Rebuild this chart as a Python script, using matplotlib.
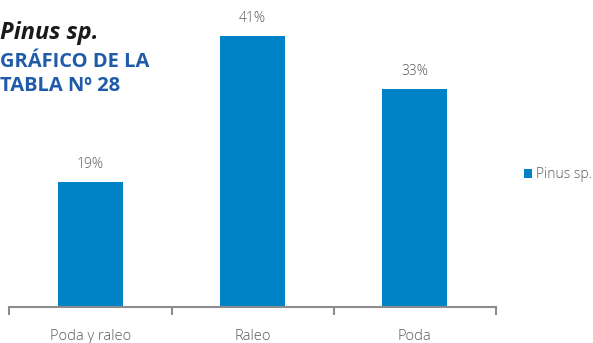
import matplotlib
matplotlib.use('Agg')
import matplotlib.pyplot as plt
import numpy as np

categories = ['Poda y raleo', 'Raleo', 'Poda']
values = [19, 41, 33]
series_name = 'Pinus sp.'

BAR = '#0083C6'
GRAY = '#8C8C8C'
TXT = '#595959'

plt.rcParams['font.family'] = ['Open Sans', 'DejaVu Sans']

fig = plt.figure(figsize=(5.93, 3.43), dpi=100)
ax = fig.add_axes([0.016, 0.105, 0.820, 0.866])

x = np.arange(len(categories))
bars = ax.bar(x, values, width=0.4, color=BAR, label=series_name)
for b, v in zip(bars, values):
    ax.text(b.get_x() + b.get_width() / 2, v + 1.5, f'{v}%',
            ha='center', va='bottom', fontsize=10, color=TXT,
            fontweight='light')

ax.set_xlim(-0.5, len(categories) - 0.5)
ax.set_ylim(0, 45)
ax.set_yticks([])
ax.set_xticks(x)
ax.set_xticklabels(categories, fontsize=10.5, color=TXT, fontweight='light')
ax.tick_params(axis='x', which='major', length=0, pad=16)
ax.set_xticks(np.arange(-0.5, len(categories)), minor=True)
ax.tick_params(axis='x', which='minor', length=6, width=1.5, color=GRAY)
for s in ['top', 'right', 'left']:
    ax.spines[s].set_visible(False)
ax.spines['bottom'].set_color(GRAY)
ax.spines['bottom'].set_linewidth(1.5)

leg = fig.legend(handles=[bars], labels=[series_name], loc='center left',
                 bbox_to_anchor=(0.862, 0.49), frameon=False, fontsize=10,
                 handlelength=0.6, handleheight=0.6, handletextpad=0.3)
for t in leg.get_texts():
    t.set_color(TXT)
    t.set_fontweight('light')

# title block, flush with the left edge
fig.text(0.0, 0.905, 'Pinus sp.', fontsize=17, fontweight='bold',
         fontstyle='italic', color='#1a1a1a', va='center', ha='left')
fig.text(0.0, 0.818, 'GRÁFICO DE LA', fontsize=14.5, fontweight='bold',
         color='#1F5BA8', va='center', ha='left')
fig.text(0.0, 0.748, 'TABLA Nº 28', fontsize=14.5, fontweight='bold',
         color='#1F5BA8', va='center', ha='left')

fig.savefig('out.png', dpi=100)
